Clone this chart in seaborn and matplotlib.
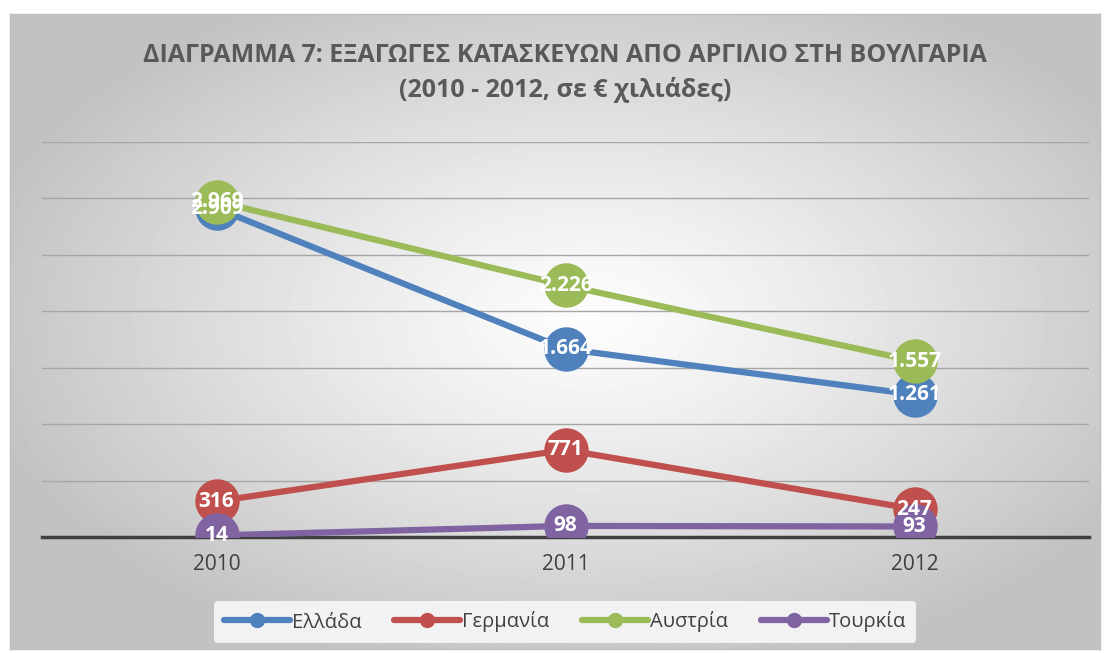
import numpy as np
import pandas as pd
import matplotlib
matplotlib.use("Agg")
import matplotlib.pyplot as plt
import seaborn as sns
from matplotlib.lines import Line2D

years = ["2010", "2011", "2012"]
series_names = ["Ελλάδα", "Γερμανία", "Αυστρία", "Τουρκία"]
greece = [2909, 1664, 1261]
germany = [316, 771, 247]
austria = [2969, 2226, 1557]
turkey = [14, 98, 93]
colors = ["#4F81BD", "#C0504D", "#9BBB59", "#8064A2"]

title_line1 = "ΔΙΑΓΡΑΜΜΑ 7: ΕΞΑΓΩΓΕΣ ΚΑΤΑΣΚΕΥΩΝ ΑΠΟ ΑΡΓΙΛΙΟ ΣΤΗ ΒΟΥΛΓΑΡΙΑ"
title_line2 = "(2010 - 2012, σε € χιλιάδες)"

sns.set_theme(style="white")
plt.rcParams['font.family'] = ['Open Sans', 'DejaVu Sans']

rows = []
for name, vals in zip(series_names, [greece, germany, austria, turkey]):
    for i, (y, v) in enumerate(zip(years, vals)):
        rows.append({"year": y, "pos": i, "series": name, "value": v})
df = pd.DataFrame(rows)

W, H = 1105, 653
fig = plt.figure(figsize=(W / 100, H / 100), dpi=100, facecolor="white")

# background gradient panel
bg = fig.add_axes([10 / W, 4 / H, 1090 / W, 635 / H])
yy, xx = np.mgrid[0:200, 0:340]
cx, cy = 180, 95
r = np.sqrt(((xx - cx) / 340) ** 2 + ((yy - cy) / 200) ** 2)
val = np.clip(0.99 - 0.45 * r ** 1.2, 0.76, 1.0)
bg.imshow(val, cmap="gray", vmin=0, vmax=1, aspect="auto", interpolation="bilinear")
bg.set_xticks([]); bg.set_yticks([])
for s in bg.spines.values():
    s.set_edgecolor("#bfbfbf"); s.set_linewidth(1)
bg.set_zorder(-5)

ax = fig.add_axes([42 / W, (H - 537) / H, 1047 / W, 395.5 / H])
ax.set_facecolor("none")
sns.lineplot(data=df, x="pos", y="value", hue="series", hue_order=series_names,
             palette=colors, marker="o", markersize=32, linewidth=4.5,
             markeredgewidth=0, legend=False, ax=ax)
ax.set_xlim(-0.5, 2.5)
ax.set_ylim(0, 3500)
ax.set_yticks(np.arange(500, 3501, 500))
ax.set_yticklabels([])
ax.tick_params(axis="y", length=0)
ax.yaxis.grid(True, color="#a6a6a6", linewidth=1)
ax.set_axisbelow(True)
ax.set_xticks(range(len(years)))
ax.set_xticklabels(years, fontsize=15, color="#404040")
ax.tick_params(axis="x", length=0, pad=12)
ax.set_xlabel(""); ax.set_ylabel("")
for s in ["top", "right", "left"]:
    ax.spines[s].set_visible(False)
ax.spines["bottom"].set_color("#404040")
ax.spines["bottom"].set_linewidth(2.5)
ax.spines["bottom"].set_zorder(1)

for name, vals in zip(series_names, [greece, germany, austria, turkey]):
    for i, v in enumerate(vals):
        ax.text(i, v, f"{v:,}".replace(",", "."), ha="center", va="center",
                color="white", fontsize=15, fontweight="bold", zorder=10)

fig.text(565 / W, 1 - 55 / H, title_line1, ha="center", va="center",
         fontsize=18, fontweight="bold", color="#595959")
fig.text(565 / W, 1 - 90 / H, title_line2, ha="center", va="center",
         fontsize=18, fontweight="bold", color="#595959")

handles = [Line2D([0], [0], color=c, lw=4.5, marker="o", markersize=10) for c in colors]
leg = fig.legend(handles, series_names, loc="center", bbox_to_anchor=(565 / W, (H - 622) / H),
                 ncol=4, frameon=True, fontsize=14.5, handlelength=3.3, columnspacing=1.6,
                 handletextpad=0.1, borderpad=0.5)
leg.get_frame().set_facecolor("#f2f2f2")
leg.get_frame().set_edgecolor("none")
leg.get_frame().set_alpha(1)
for t in leg.get_texts():
    t.set_color("#404040")

fig.savefig("out.png", dpi=100)
